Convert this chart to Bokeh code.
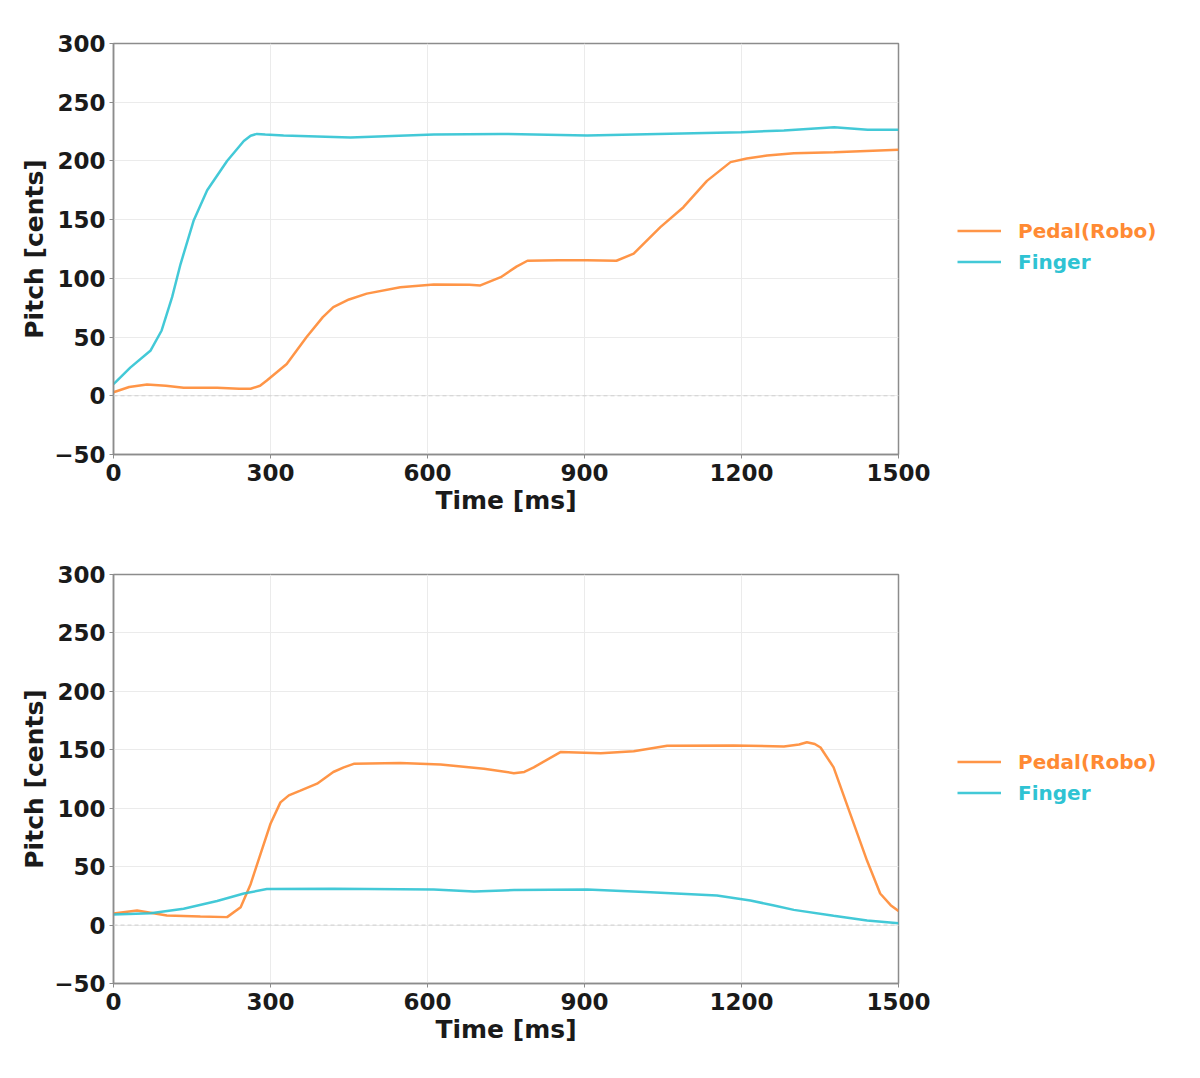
from bokeh.plotting import figure
from bokeh.layouts import column, row
from bokeh.models import Legend, LegendItem, Span, FixedTicker, Range1d
from bokeh.embed import file_html
from bokeh.resources import INLINE

# ---- data ----
t1_pedal = [0, 30, 64, 100, 134, 198, 240, 262, 280, 293, 331, 369, 400, 420, 450, 484, 548,
            612, 680, 701, 740, 770, 791, 850, 905, 961, 994, 1045, 1089, 1134, 1179, 1210,
            1249, 1300, 1377, 1500]
v1_pedal = [3, 7.5, 9.6, 8.5, 6.8, 6.8, 6, 6, 8.5, 13, 27, 50, 67, 75.5, 82, 87, 92.5,
            94.8, 94.5, 94, 101, 110, 115, 115.4, 115.4, 115, 121, 143.6, 160.6, 183, 199, 202,
            204.6, 206.6, 207.4, 209.5]
t1_finger = [0, 4, 32, 71, 92, 112, 128, 153, 179, 217, 249, 262, 274, 290, 325, 453, 612,
             740, 905, 1199, 1281, 1377, 1441, 1500]
v1_finger = [10, 11.6, 24, 38.6, 55.6, 84, 112, 149, 175, 200, 217, 221.5, 223, 222.5, 221.6,
             220, 222.5, 223, 221.6, 224.5, 226, 228.7, 226.5, 226.5]

t2_pedal = [0, 45, 102, 166, 217, 243, 262, 281, 300, 319, 335, 357, 389, 420, 440, 459, 548,
            625, 708, 765, 785, 803, 854, 931, 994, 1058, 1185, 1281, 1310, 1325, 1340, 1351,
            1376, 1408, 1440, 1465, 1485, 1500]
v2_pedal = [10, 12.5, 8.2, 7.4, 6.8, 15.3, 35, 61, 86.7, 105, 111, 115, 121, 131, 135, 138,
            138.6, 137.4, 133.7, 130, 131, 135, 148, 147, 148.8, 153.4, 153.7, 152.8, 154.5,
            156.5, 155, 152, 135, 95, 55, 27, 17, 12]
t2_finger = [0, 71, 134, 198, 249, 293, 420, 612, 689, 765, 905, 1026, 1153, 1217, 1260,
             1300, 1376, 1440, 1500]
v2_finger = [9, 10.2, 14, 20.6, 27, 30.8, 31, 30.5, 28.8, 30, 30.5, 28, 25.3, 21, 17,
             13, 8, 4, 1.5]

x_ticks = [0, 300, 600, 900, 1200, 1500]
y_ticks = [-50, 0, 50, 100, 150, 200, 250, 300]
series_labels = ["Pedal(Robo)", "Finger"]

ORANGE = "#ff8a33"
CYAN = "#2fc3d3"
FONT = "DejaVu Sans"


def make_fig(tp, vp, tf, vf, top, bottom, frame_h):
    p = figure(output_backend="svg", toolbar_location=None,
               frame_width=785, frame_height=frame_h,
               min_border_left=113, min_border_right=40,
               min_border_top=top, min_border_bottom=bottom,
               x_range=Range1d(0, 1500), y_range=Range1d(-50, 300),
               outline_line_color="#8c8c8c", outline_line_width=1.5,
               background_fill_color="white", border_fill_color="white")
    p.xaxis.ticker = FixedTicker(ticks=x_ticks)
    p.yaxis.ticker = FixedTicker(ticks=y_ticks)
    p.yaxis.major_label_overrides = {-50: "\u221250"}
    for ax in (p.xaxis, p.yaxis):
        ax.major_label_text_font = FONT
        ax.major_label_text_font_style = "bold"
        ax.major_label_text_font_size = "23px"
        ax.major_label_text_color = "#1a1a1a"
        ax.axis_label_text_font = FONT
        ax.axis_label_text_font_style = "bold"
        ax.axis_label_text_font_size = "25px"
        ax.axis_label_text_color = "#1a1a1a"
        ax.axis_line_color = "#8c8c8c"
        ax.axis_line_width = 1.5
        ax.major_tick_line_color = "#8c8c8c"
        ax.major_tick_in = 0
        ax.major_tick_out = 4
        ax.minor_tick_line_color = None
    p.xaxis.major_label_standoff = 5
    p.yaxis.major_label_standoff = 4
    p.xaxis.axis_label = "Time [ms]"
    p.yaxis.axis_label = "Pitch [cents]"
    p.xaxis.axis_label_standoff = 2
    p.yaxis.axis_label_standoff = 2
    p.grid.grid_line_color = "#ebebeb"
    p.grid.grid_line_width = 1

    zero = Span(location=0, dimension="width", line_color="#cfcfcf",
                line_dash="4 3", line_width=1)
    p.add_layout(zero)

    p.line(tp, vp, line_color=ORANGE, line_width=2.5, line_alpha=0.9)
    p.line(tf, vf, line_color=CYAN, line_width=2.5, line_alpha=0.9)
    return p


def make_legend_fig(top, bottom, frame_h):
    lf = figure(output_backend="svg", toolbar_location=None,
                frame_width=250, frame_height=frame_h,
                min_border_left=0, min_border_right=0,
                min_border_top=top, min_border_bottom=bottom,
                x_range=Range1d(0, 1), y_range=Range1d(0, 1),
                outline_line_color=None, background_fill_color="white",
                border_fill_color="white")
    lf.axis.visible = False
    lf.grid.visible = False
    cols = [ORANGE, CYAN]
    for i, col in enumerate(cols):
        r = lf.line(x=[float("nan")], y=[float("nan")], line_color=col,
                    line_width=2.5, line_alpha=0.9)
        lg = Legend(items=[LegendItem(label=series_labels[i], renderers=[r])],
                    location=(19, frame_h - 203 - 31 * i),
                    padding=0, margin=0, spacing=0,
                    glyph_width=44, glyph_height=31, label_height=31,
                    label_standoff=17,
                    label_text_font=FONT, label_text_font_style="bold",
                    label_text_font_size="20px", label_text_color=col,
                    border_line_color=None, background_fill_alpha=0)
        lf.add_layout(lg, "center")
    return lf


p1 = make_fig(t1_pedal, v1_pedal, t1_finger, v1_finger, 43, 85, 411)
p2 = make_fig(t2_pedal, v2_pedal, t2_finger, v2_finger, 35, 70, 409)
layout = column(row(p1, make_legend_fig(43, 85, 411), spacing=0),
                row(p2, make_legend_fig(35, 70, 409), spacing=0), spacing=0)

open("out.html", "w").write(file_html(layout, INLINE))
